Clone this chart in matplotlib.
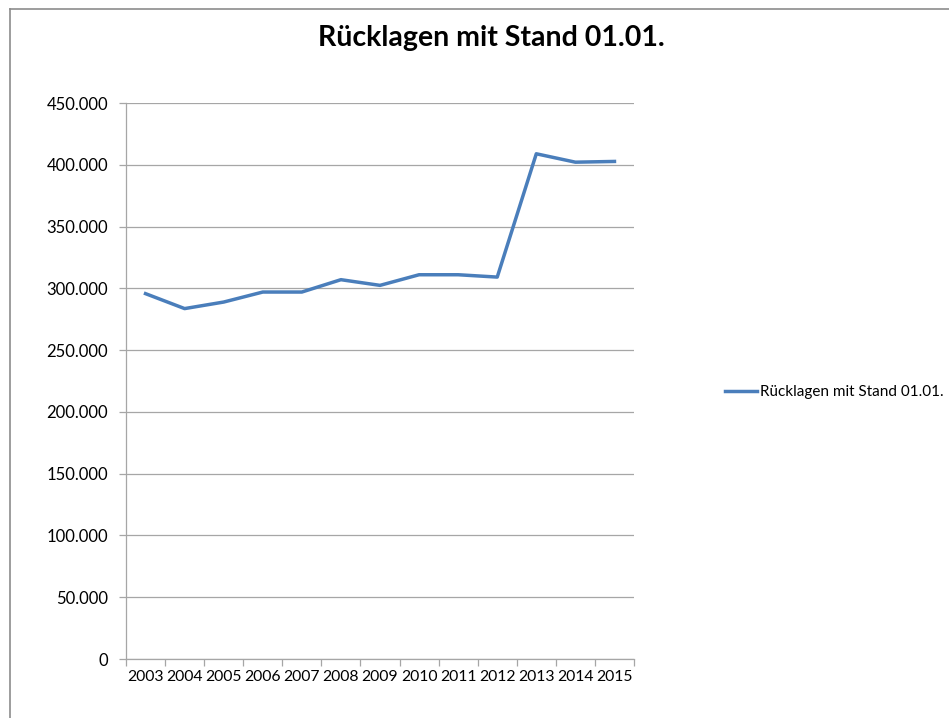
import numpy as np
import matplotlib.pyplot as plt
from matplotlib.lines import Line2D
from matplotlib.ticker import FuncFormatter, FixedLocator

jahre = ["2003", "2004", "2005", "2006", "2007", "2008", "2009",
         "2010", "2011", "2012", "2013", "2014", "2015"]
ruecklagen = [295700, 283600, 288900, 297000, 297000, 307000, 302400,
              311000, 311000, 309100, 408900, 402100, 402700]
serie = "Rücklagen mit Stand 01.01."
titel = "Rücklagen mit Stand 01.01."

plt.rcParams["font.family"] = ["Lato", "DejaVu Sans"]

fig = plt.figure(figsize=(9.49, 7.18), dpi=100)
ax = fig.add_axes([126 / 949, 1 - 659 / 718, 508 / 949, 556 / 718])

x = np.arange(len(jahre))
ax.plot(x, ruecklagen, color="#4A7EBB", linewidth=2.5, label=serie)

ax.set_xlim(-0.5, len(jahre) - 0.5)
ax.set_ylim(0, 450000)
ax.set_yticks(np.arange(0, 450001, 50000))
ax.yaxis.set_major_formatter(FuncFormatter(lambda v, p: f"{int(v):,}".replace(",", ".")))
ax.set_xticks(x)
ax.set_xticklabels(jahre)
ax.xaxis.set_minor_locator(FixedLocator(np.arange(-0.5, len(jahre), 1.0)))

ax.grid(axis="y", color="#A6A6A6", linewidth=0.9)
ax.set_axisbelow(True)
for s in ["top", "right"]:
    ax.spines[s].set_visible(False)
for s in ["left", "bottom"]:
    ax.spines[s].set_color("#A6A6A6")
    ax.spines[s].set_linewidth(0.9)

ax.tick_params(axis="x", which="major", length=0, pad=8, labelsize=11.3)
ax.tick_params(axis="x", which="minor", length=5, color="#A6A6A6", width=0.9)
ax.tick_params(axis="y", length=5, color="#A6A6A6", width=0.9, pad=8, labelsize=12)

fig.text(491 / 949, 1 - 38 / 718, titel, ha="center", va="center",
         fontsize=20.5, fontweight="bold")

leg = fig.legend(loc="center left", bbox_to_anchor=(725 / 949, 1 - 392 / 718),
                 frameon=False, fontsize=11, handlelength=2.1, handletextpad=0.2,
                 borderpad=0, borderaxespad=0)

# Rahmen des Diagrammbereichs (links und oben)
rahmen = "#8C8C8C"
fig.add_artist(Line2D([10 / 949, 10 / 949], [0, 1 - 9 / 718], color=rahmen, linewidth=1.2))
fig.add_artist(Line2D([10 / 949, 1], [1 - 9 / 718, 1 - 9 / 718], color=rahmen, linewidth=1.2))

fig.savefig("out.png", dpi=100)
